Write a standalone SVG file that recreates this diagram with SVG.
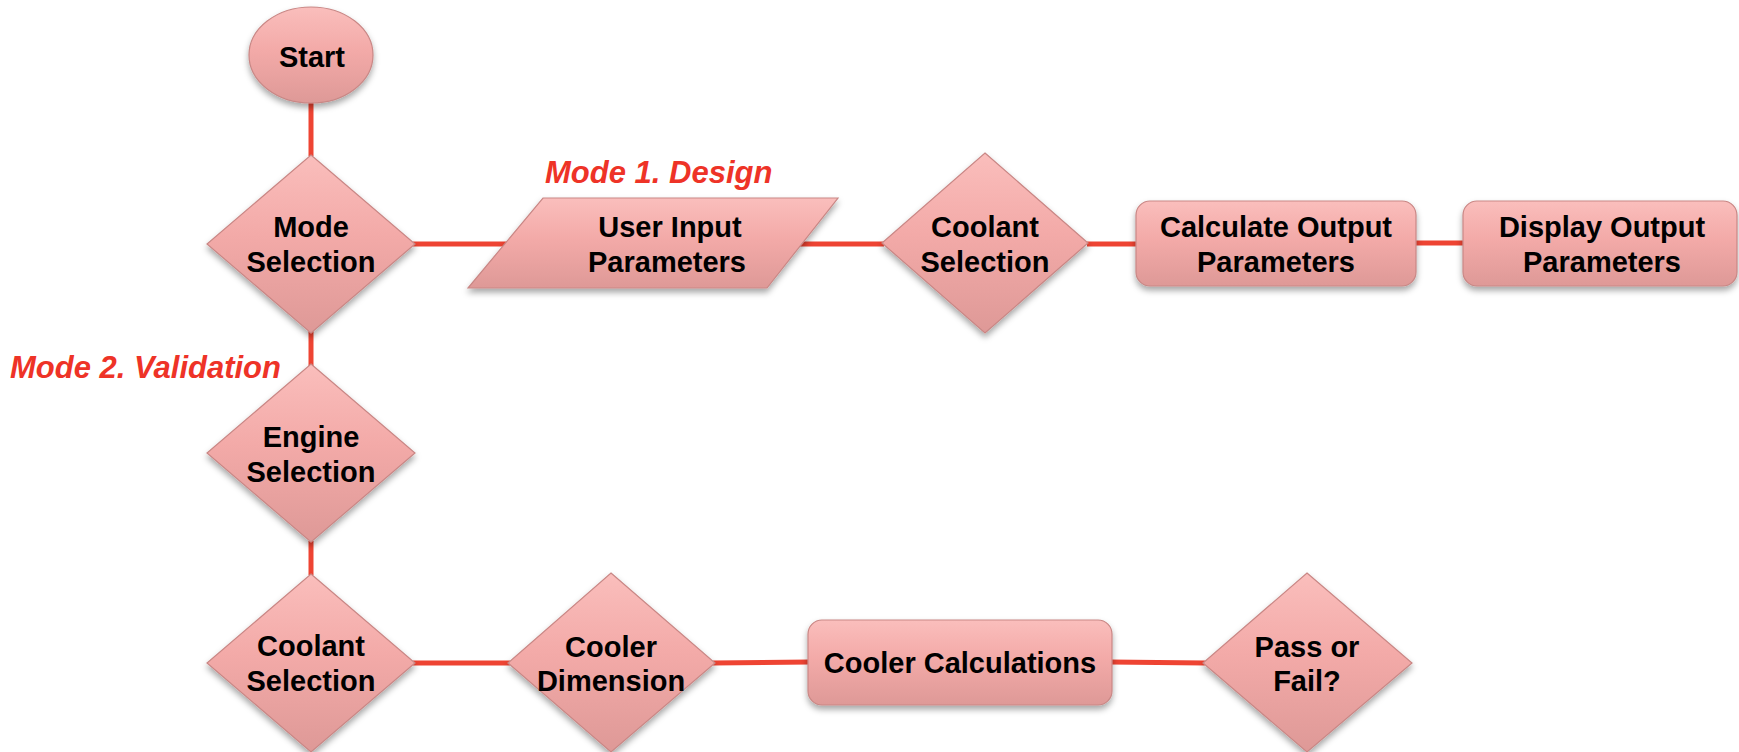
<svg xmlns="http://www.w3.org/2000/svg" width="1739" height="752" viewBox="0 0 1739 752">
<defs>
<linearGradient id="g" x1="0" y1="0" x2="0" y2="1">
<stop offset="0" stop-color="#FABEBC"/>
<stop offset="0.45" stop-color="#F3AAA8"/>
<stop offset="1" stop-color="#DE9997"/>
</linearGradient>
<filter id="sh" x="-10%" y="-10%" width="120%" height="130%">
<feDropShadow dx="0" dy="4" stdDeviation="3" flood-color="#000" flood-opacity="0.35"/>
</filter>
<style>
.n{fill:url(#g);stroke:#C98785;stroke-width:1.2;filter:url(#sh)}
.t{font-family:"Liberation Sans",Arial,sans-serif;font-weight:bold;font-size:29px;fill:#000;text-anchor:middle}
.m{font-family:"Liberation Sans",Arial,sans-serif;font-weight:bold;font-style:italic;font-size:31px;fill:#EE3327}
.c{stroke:#EE4433;stroke-width:5;fill:none}
</style>
</defs>
<rect width="1739" height="752" fill="#fff"/>
<g id="connectors">
<line class="c" x1="311" y1="100" x2="311" y2="156"/>
<line class="c" x1="413" y1="244" x2="508" y2="244"/>
<line class="c" x1="790" y1="244" x2="884" y2="244"/>
<line class="c" x1="1087" y1="244" x2="1138" y2="244"/>
<line class="c" x1="1414" y1="243" x2="1465" y2="243"/>
<line class="c" x1="311" y1="331" x2="311" y2="366"/>
<line class="c" x1="311" y1="541" x2="311" y2="575"/>
<line class="c" x1="413" y1="663" x2="510" y2="663"/>
<line class="c" x1="713" y1="663" x2="810" y2="662"/>
<line class="c" x1="1110" y1="662" x2="1205" y2="663"/>
</g>
<g id="start">
<ellipse class="n" cx="311" cy="55" rx="62" ry="48"/>
<text class="t" x="312" y="67">Start</text>
</g>
<g id="mode-selection">
<polygon class="n" points="311,155 415,244 311,333 207,244"/>
<text class="t" x="311" y="237">Mode</text>
<text class="t" x="311" y="272">Selection</text>
</g>
<g id="user-input">
<polygon class="n" points="543,198 838,198 767,288 468,288"/>
<text class="t" x="670" y="237">User Input</text>
<text class="t" x="667" y="272">Parameters</text>
</g>
<g id="coolant-selection-1">
<polygon class="n" points="985,153 1088,243 985,333 882,243"/>
<text class="t" x="985" y="237">Coolant</text>
<text class="t" x="985" y="272">Selection</text>
</g>
<g id="calculate-output">
<rect class="n" x="1136" y="201" width="280" height="85" rx="14"/>
<text class="t" x="1276" y="237">Calculate Output</text>
<text class="t" x="1276" y="272">Parameters</text>
</g>
<g id="display-output">
<rect class="n" x="1463" y="201" width="274" height="85" rx="14"/>
<text class="t" x="1602" y="237">Display Output</text>
<text class="t" x="1602" y="272">Parameters</text>
</g>
<g id="engine-selection">
<polygon class="n" points="311,364 415,453 311,542 207,453"/>
<text class="t" x="311" y="447">Engine</text>
<text class="t" x="311" y="482">Selection</text>
</g>
<g id="coolant-selection-2">
<polygon class="n" points="311,574 415,663 311,752 207,663"/>
<text class="t" x="311" y="656">Coolant</text>
<text class="t" x="311" y="691">Selection</text>
</g>
<g id="cooler-dimension">
<polygon class="n" points="611,573 715,663 611,752 508,663"/>
<text class="t" x="611" y="657">Cooler</text>
<text class="t" x="611" y="691">Dimension</text>
</g>
<g id="cooler-calculations">
<rect class="n" x="808" y="620" width="304" height="85" rx="14"/>
<text class="t" x="960" y="673">Cooler Calculations</text>
</g>
<g id="pass-fail">
<polygon class="n" points="1307,573 1412,663 1307,752 1203,663"/>
<text class="t" x="1307" y="657">Pass or</text>
<text class="t" x="1307" y="691">Fail?</text>
</g>
<g id="labels">
<text class="m" x="545" y="183">Mode 1. Design</text>
<text class="m" x="10" y="378">Mode 2. Validation</text>
</g>
</svg>
